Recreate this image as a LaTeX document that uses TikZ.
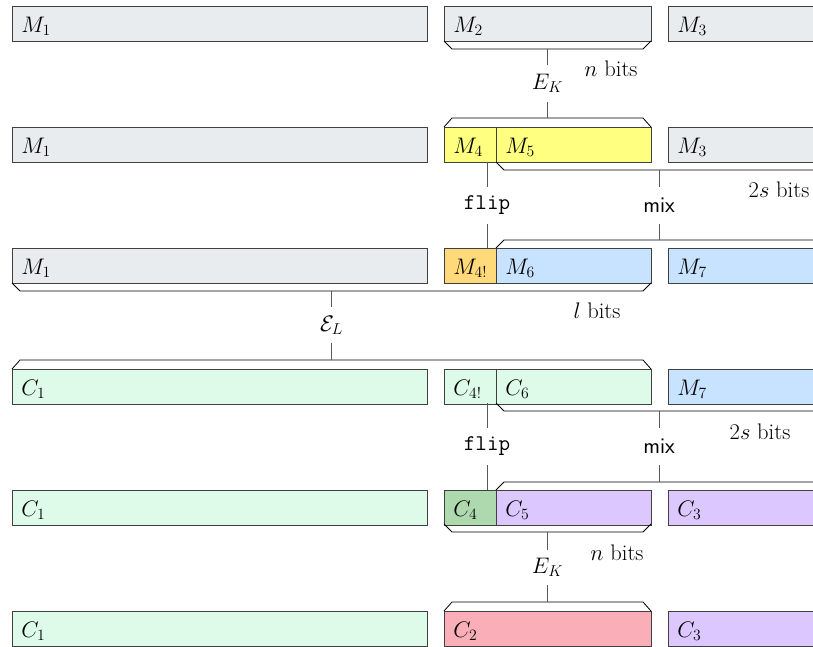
\RequirePackage{fix-cm}
\documentclass[tikz,border=0pt]{standalone}
\definecolor{cgrey}{HTML}{E9ECEE}
\definecolor{cyellow}{HTML}{FFFF80}
\definecolor{corange}{HTML}{FFD97A}
\definecolor{cblue}{HTML}{C8E3FF}
\definecolor{cmint}{HTML}{DEFBEA}
\definecolor{cgreen}{HTML}{AED8AE}
\definecolor{cpurple}{HTML}{DCC8FF}
\definecolor{cred}{HTML}{F9AEB8}
\newcommand\bx[6]{\node[blk,fill=#5,text width=#4] (#1) at (#2,#3) {#6};}
\begin{document}
\begin{tikzpicture}[x=1pt,y=-1pt,
  every node/.style={font=\fontsize{22.5}{27}\selectfont},
  blk/.style={draw=black!75, line width=0.7pt, anchor=north west, minimum height=35pt,
    inner xsep=9pt, inner ysep=0pt, text height=17pt, text depth=0pt, align=left},
  brace/.style={draw=black, line width=0.8pt},
  conn/.style={draw=black!65, line width=0.8pt},
  lbl/.style={inner sep=0pt, minimum height=37pt},
  note/.style={inner sep=0pt}]
\clip (0,0) rectangle (813,646);
% row 1
\bx{ra1}{12}{6}{397pt}{cgrey}{$M_1$}
\bx{ra2}{444}{6}{189pt}{cgrey}{$M_2$}
\bx{ra3}{668}{6}{189pt}{cgrey}{$M_3$}
% row 2
\bx{rb1}{12}{127}{397pt}{cgrey}{$M_1$}
\bx{rb4}{444}{127}{34pt}{cyellow}{$M_4$}
\bx{rb5}{496}{127}{137pt}{cyellow}{$M_5$}
\bx{rb3}{668}{127}{189pt}{cgrey}{$M_3$}
% row 3
\bx{rc1}{12}{248}{397pt}{cgrey}{$M_1$}
\bx{rc4}{444}{248}{34pt}{corange}{$M_{4!}$}
\bx{rc6}{496}{248}{137pt}{cblue}{$M_6$}
\bx{rc7}{668}{248}{189pt}{cblue}{$M_7$}
% row 4
\bx{rd1}{12}{369}{397pt}{cmint}{$C_1$}
\bx{rd4}{444}{369}{34pt}{cmint}{$C_{4!}$}
\bx{rd6}{496}{369}{137pt}{cmint}{$C_6$}
\bx{rd7}{668}{369}{189pt}{cblue}{$M_7$}
% row 5
\bx{re1}{12}{490}{397pt}{cmint}{$C_1$}
\bx{re4}{444}{490}{34pt}{cgreen}{$C_4$}
\bx{re5}{496}{490}{137pt}{cpurple}{$C_5$}
\bx{re3}{668}{490}{189pt}{cpurple}{$C_3$}
% row 6
\bx{rf1}{12}{611}{397pt}{cmint}{$C_1$}
\bx{rf2}{444}{611}{189pt}{cred}{$C_2$}
\bx{rf3}{668}{611}{189pt}{cpurple}{$C_3$}

% braces
\draw[brace] (444,41) -- (452,49) -- (643,49) -- (651,41);
\draw[brace] (444,127) -- (452,118) -- (643,118) -- (651,127);
\draw[brace] (496,162) -- (504,170) -- (840,170);
\draw[brace] (496,248) -- (504,240) -- (840,240);
\draw[brace] (12,283) -- (20,291) -- (643,291) -- (651,283);
\draw[brace] (12,369) -- (20,360) -- (643,360) -- (651,369);
\draw[brace] (496,403) -- (504,411) -- (840,411);
\draw[brace] (496,490) -- (504,482) -- (840,482);
\draw[brace] (444,524) -- (452,532) -- (643,532) -- (651,524);
\draw[brace] (444,611) -- (452,602) -- (643,602) -- (651,611);

% coordinates on braces
\coordinate (b1) at (547.5,49);
\coordinate (t2) at (547.5,118);
\coordinate (fa) at (487,162);
\coordinate (fb) at (487,248);
\coordinate (xa) at (659,170);
\coordinate (xb) at (659,240);
\coordinate (b3) at (331.5,291);
\coordinate (t4) at (331.5,360);
\coordinate (fc) at (487,403);
\coordinate (fd) at (487,490);
\coordinate (xc) at (659,411);
\coordinate (xd) at (659,482);
\coordinate (b5) at (547.5,532);
\coordinate (t6) at (547.5,602);

% labels
\node[lbl] (ek1) at (547.5,83.5) {$E_K$};
\node[lbl] (fl1) at (487,205.5) {\texttt{flip}};
\node[lbl] (mx1) at (659,205.5) {\textsf{mix}};
\node[lbl, minimum height=36pt] (el) at (331.5,325) {$\mathcal{E}_L$};
\node[lbl] (fl2) at (487,446.5) {\texttt{flip}};
\node[lbl] (mx2) at (659,446.5) {\textsf{mix}};
\node[lbl, minimum height=35pt] (ek2) at (547.5,567.5) {$E_K$};

\node[note] (nb1) at (611,69) {$n$ bits};
\node[note] (sb1) at (779,190) {$2s$ bits};
\node[note] (lb) at (597,311) {$l$ bits};
\node[note] (sb2) at (760,432) {$2s$ bits};
\node[note] (nb2) at (617,553) {$n$ bits};

% connectors
\draw[conn] (b1) -- (ek1.north);
\draw[conn] (ek1.south) -- (t2);
\draw[conn] (fa) -- (fl1.north);
\draw[conn] (fl1.south) -- (fb);
\draw[conn] (xa) -- (mx1.north);
\draw[conn] (mx1.south) -- (xb);
\draw[conn] (b3) -- (el.north);
\draw[conn] (el.south) -- (t4);
\draw[conn] (fc) -- (fl2.north);
\draw[conn] (fl2.south) -- (fd);
\draw[conn] (xc) -- (mx2.north);
\draw[conn] (mx2.south) -- (xd);
\draw[conn] (b5) -- (ek2.north);
\draw[conn] (ek2.south) -- (t6);
\end{tikzpicture}
\end{document}
